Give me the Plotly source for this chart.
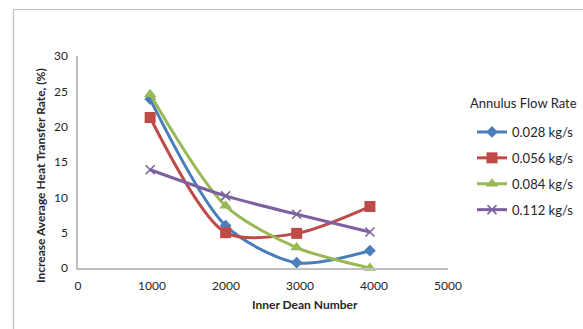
import plotly.graph_objects as go

# Inner Dean number for each test point
dean_number = [975, 1995, 2955, 3945]

# Increase in average heat transfer rate (%) per annulus flow rate
rate_0028 = [23.9, 6.0, 0.75, 2.45]
rate_0056 = [21.3, 5.0, 4.9, 8.7]
rate_0084 = [24.6, 8.8, 2.9, 0.0]
rate_0112 = [13.9, 10.2, 7.6, 5.1]

series_names = ["0.028 kg/s", "0.056 kg/s", "0.084 kg/s", "0.112 kg/s"]
series_values = [rate_0028, rate_0056, rate_0084, rate_0112]
colors = ["#4A7EBB", "#BE4B48", "#98B954", "#7D60A0"]
symbols = ["diamond", "square", "triangle-up", "x-thin"]
sizes = [9, 11, 11, 9]

W, H = 583, 329
L, R, T, B = 78, 135, 56, 61
FONT = "Lato, 'Open Sans', sans-serif"
TEXT = "#262626"

fig = go.Figure()
for i, (name, vals) in enumerate(zip(series_names, series_values)):
    marker = dict(symbol=symbols[i], size=sizes[i], color=colors[i])
    if symbols[i] == "x-thin":
        marker["line"] = dict(color=colors[i], width=1.6)
    fig.add_trace(go.Scatter(
        x=dean_number, y=vals, name=name, mode="lines+markers",
        line=dict(color=colors[i], width=3, shape="spline", smoothing=0.8),
        marker=marker, legendgroup=name, cliponaxis=False,
    ))

def px_x(px):
    return (px - L) / (W - L - R)

def px_y(py):
    return 1 - (py - T) / (H - T - B)

fig.update_layout(
    width=W, height=H,
    margin=dict(l=L, r=R, t=T, b=B, autoexpand=False),
    paper_bgcolor="white", plot_bgcolor="white",
    font=dict(family=FONT, size=12, color=TEXT),
    showlegend=True,
    legend=dict(
        x=px_x(472), y=px_y(117), xanchor="left", yanchor="top",
        font=dict(size=13, color=TEXT),
        tracegroupgap=6, itemwidth=30, bgcolor="rgba(0,0,0,0)",
    ),
    xaxis=dict(
        range=[0, 5000], tickvals=[0, 1000, 2000, 3000, 4000, 5000],
        showgrid=False, zeroline=False, showline=True,
        linecolor="#BFBFBF", linewidth=1.5, ticks="",
        tickfont=dict(size=12, color=TEXT), ticklabelstandoff=6,
    ),
    yaxis=dict(
        range=[0, 30], tickvals=[0, 5, 10, 15, 20, 25, 30],
        showgrid=False, zeroline=False, showline=True,
        linecolor="#BFBFBF", linewidth=1.5, ticks="",
        tickfont=dict(size=12, color=TEXT), ticklabelstandoff=6,
    ),
    annotations=[
        dict(text="Annulus Flow Rate", xref="paper", yref="paper",
             x=px_x(468), y=px_y(103), showarrow=False,
             font=dict(size=13, color=TEXT), xanchor="left", yanchor="middle"),
        dict(text="<b>Inner Dean Number</b>", xref="paper", yref="paper",
             x=px_x(305), y=px_y(304), showarrow=False,
             font=dict(size=12, color=TEXT), xanchor="center", yanchor="middle"),
        dict(text="<b>Increase Average Heat Transfer Rate, (%)</b>", xref="paper", yref="paper",
             x=px_x(40), y=px_y(176), showarrow=False, textangle=-90,
             font=dict(size=12, color=TEXT), xanchor="center", yanchor="middle"),
    ],
    shapes=[
        dict(type="rect", xref="paper", yref="paper",
             x0=px_x(13.5), x1=px_x(W + 5), y0=px_y(H + 5), y1=px_y(9.5),
             line=dict(color="#BFBFBF", width=1.2), layer="below"),
    ],
)

fig.write_html("out.html")
